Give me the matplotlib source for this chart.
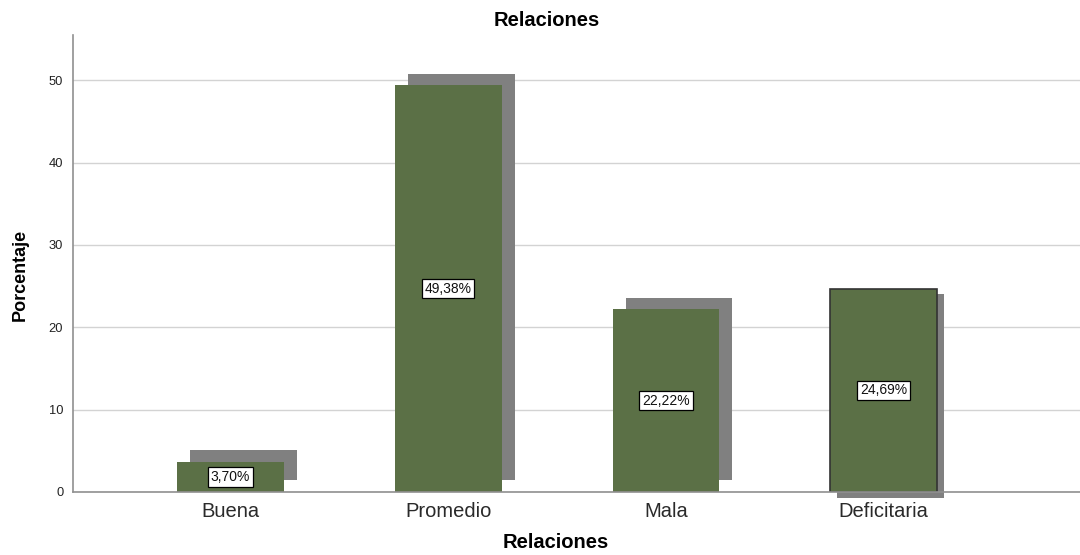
import matplotlib
matplotlib.use("Agg")
import matplotlib.pyplot as plt

plt.rcParams['font.family'] = ['Liberation Sans', 'DejaVu Sans']

categorias = ['Buena', 'Promedio', 'Mala', 'Deficitaria']
porcentajes = [3.70, 49.38, 22.22, 24.69]
etiquetas = [f"{v:.2f}".replace('.', ',') + '%' for v in porcentajes]

verde = '#5b7046'
sombra = '#808080'
# desplazamiento de la sombra (x en unidades de categoria, y en %)
sombra_dx = [0.06, 0.06, 0.06, 0.032]
sombra_dy = [1.4, 1.4, 1.4, -0.7]
borde = ['none', 'none', 'none', '#333333']

fig = plt.figure(figsize=(10.8, 5.55), dpi=100)
ax = fig.add_axes([73/1080, 1 - 492/555, 1007/1080, 457/555])

x = list(range(len(categorias)))
ancho = 0.49

for i, v in enumerate(porcentajes):
    ax.bar(x[i] + sombra_dx[i], v, width=ancho, bottom=sombra_dy[i],
           color=sombra, zorder=2, clip_on=False)
    ax.bar(x[i], v, width=ancho, color=verde, zorder=3,
           edgecolor=borde[i], linewidth=1.2 if borde[i] != 'none' else 0)
    ax.text(x[i], v / 2, etiquetas[i], ha='center', va='center', fontsize=10,
            color='#111111', zorder=5,
            bbox=dict(boxstyle='square,pad=0.2', fc='white', ec='black', lw=0.9))

ax.set_xlim(-0.7235, 3.902)
ax.set_ylim(0, 55.5)
ax.set_yticks([0, 10, 20, 30, 40, 50])
ax.set_xticks(x)
ax.set_xticklabels(categorias, fontsize=14.5, color='#2a2a2a')
ax.tick_params(axis='x', length=0, pad=7)
ax.tick_params(axis='y', length=0, pad=7, labelsize=9.3, colors='#222222')
ax.yaxis.grid(True, color='#d3d3d3', linewidth=1.0, zorder=0)
ax.set_axisbelow(True)

for s in ['top', 'right']:
    ax.spines[s].set_visible(False)
for s in ['left', 'bottom']:
    ax.spines[s].set_color('#909090')
    ax.spines[s].set_linewidth(1.2)
ax.spines['bottom'].set_zorder(4)

fig.text(547/1080, 1 - 20/555, 'Relaciones', ha='center', va='center',
         fontsize=14.5, fontweight='bold')
fig.text(556/1080, 1 - 543/555, 'Relaciones', ha='center', va='center',
         fontsize=14.5, fontweight='bold')
fig.text(20/1080, 1 - 275/555, 'Porcentaje', ha='center', va='center',
         rotation=90, fontsize=13, fontweight='bold')

fig.savefig('out.png', dpi=100)
